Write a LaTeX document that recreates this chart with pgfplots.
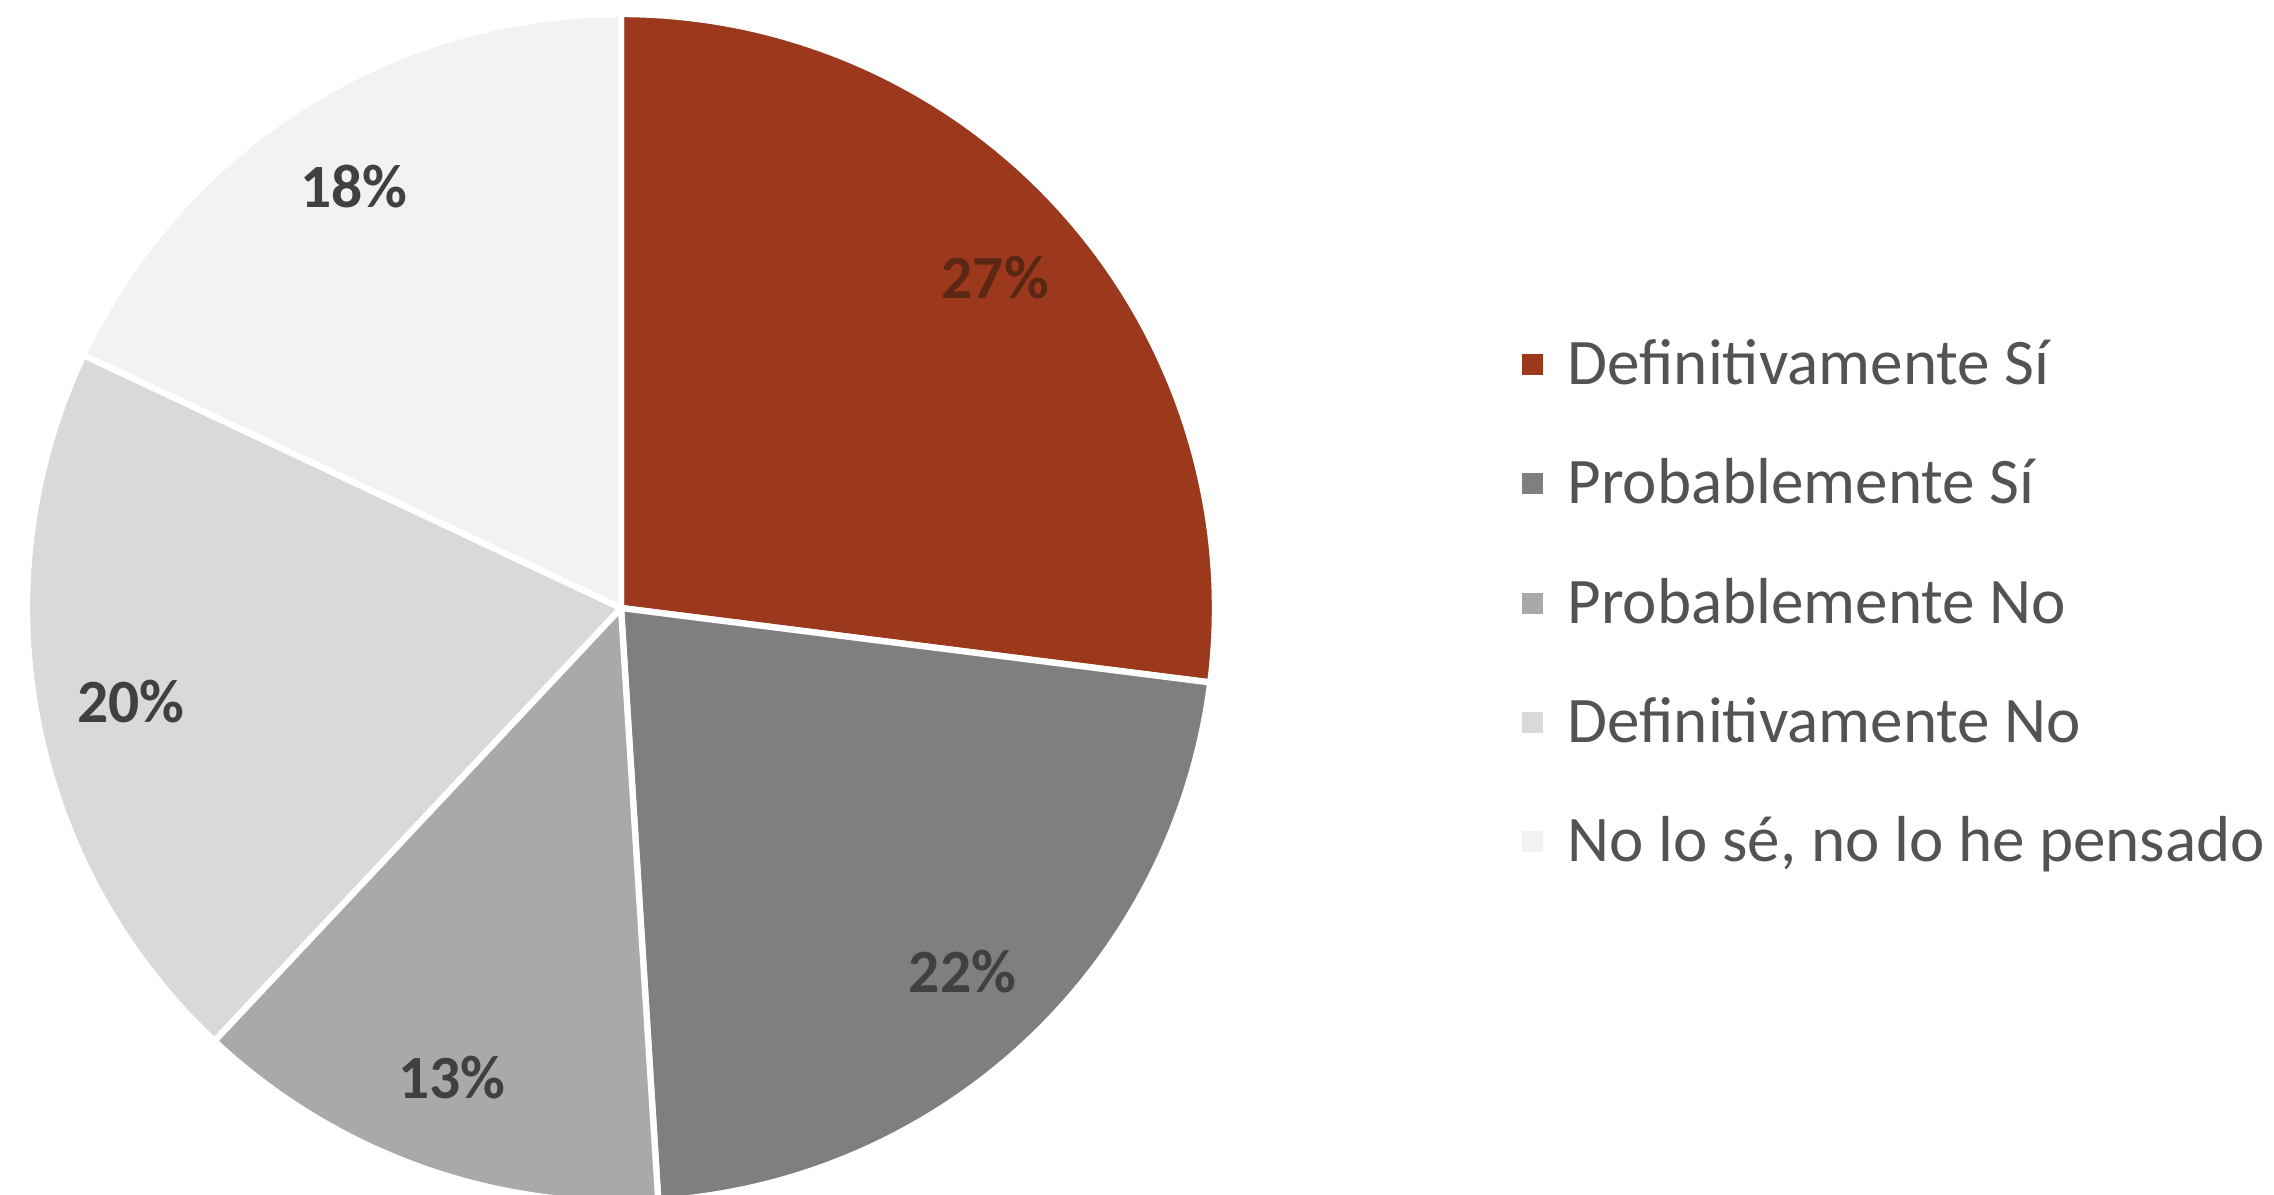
\documentclass[border=0pt]{standalone}
\usepackage{fontspec}
\setmainfont{Carlito}
\usepackage{pgfplots}
\pgfplotsset{compat=1.18}

\definecolor{cDefSi}{HTML}{9C381B}
\definecolor{cProbSi}{HTML}{7F7F7F}
\definecolor{cProbNo}{HTML}{A9A9A9}
\definecolor{cDefNo}{HTML}{D9D9D9}
\definecolor{cNoSe}{HTML}{F2F2F2}
\definecolor{txt}{HTML}{404040}
\definecolor{txtred}{HTML}{5A2714}

% one wedge: start angle, share in %, colour, legend text, label colour
% wedges run clockwise from the top
\newcommand{\slice}[5]{%
  \pgfmathsetmacro{\aEnd}{#1-3.6*#2}
  \pgfmathsetmacro{\aMid}{#1-1.8*#2}
  \edef\doslice{\noexpand\addplot[fill=#3, draw=white, line width=1.8pt,
      domain=\aEnd:#1, samples=90]
    ({cos(x)},{sin(x)}) -- (axis cs:0,0) -- cycle;}
  \doslice
  \addlegendentry{#4}
  \edef\dolabel{\noexpand\node[font=\noexpand\bfseries\noexpand\fontsize{17.5}{20}\noexpand\selectfont,
      text=#5] at (axis cs:{0.84*cos(\aMid)},{0.84*sin(\aMid)}) {#2\noexpand\%};}
  \dolabel
}

\begin{document}
\begin{tikzpicture}
\begin{axis}[
  at={(6.21cm,5.87cm)}, anchor=center,
  scale only axis, width=11.88cm, height=11.88cm,
  xmin=-1, xmax=1, ymin=-1, ymax=1,
  hide axis, clip=false,
  legend cell align=left,
  legend style={
    at={(axis cs:1.515,0.008)}, anchor=west,
    draw=none, fill=none, inner sep=0pt,
    font=\fontsize{18.5}{22}\selectfont, text=txt!90!white,
    row sep=0.69cm,
    nodes={inner xsep=0.25cm, inner ysep=0pt},
  },
  legend image code/.code={
    \path[#1, draw=none] (0cm,-0.105cm) rectangle (0.21cm,0.105cm);
  },
]
  \slice{90}{27}{cDefSi}{Definitivamente Sí}{txtred}
  \slice{-7.2}{22}{cProbSi}{Probablemente Sí}{txt}
  \slice{-86.4}{13}{cProbNo}{Probablemente No}{txt}
  \slice{-133.2}{20}{cDefNo}{Definitivamente No}{txt}
  \slice{-205.2}{18}{cNoSe}{No lo sé, no lo he pensado}{txt}
\end{axis}
\pgfresetboundingbox
\path[use as bounding box] (0,0) rectangle (22.74cm,11.95cm);
\end{tikzpicture}
\end{document}
